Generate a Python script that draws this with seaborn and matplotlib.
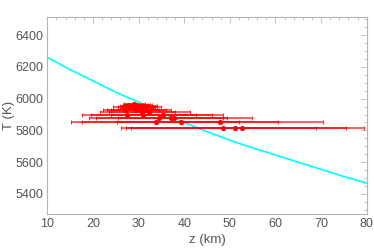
import matplotlib
matplotlib.use("Agg")
import matplotlib.pyplot as plt
import seaborn as sns
import numpy as np
import pandas as pd
from matplotlib.ticker import MultipleLocator

# model curve
curve_z = [10, 15, 20, 25, 30, 35, 40, 45, 48, 50, 55, 60, 65, 70, 75, 80]
curve_T = [6260, 6182, 6112, 6040, 5978, 5912, 5850, 5792, 5760, 5738, 5690, 5645, 5600, 5555, 5510, 5468]

# measurements
z_pts = [48.6, 51.1, 52.6, 33.8, 39.2, 47.8, 34.4, 37.0, 37.7, 27.5, 31.0, 35.3,
         30.8, 32.3, 29.5, 31.5, 27.0, 26.5, 28.5, 31.2, 28.0, 28.8, 29.5, 30.2,
         30.8, 29.0, 27.7, 31.5, 30.0, 29.2]
T_pts = [5818, 5818, 5818, 5852, 5852, 5852, 5880, 5880, 5880, 5899, 5899, 5899,
         5915, 5915, 5930, 5930, 5930, 5945, 5945, 5945, 5958, 5962, 5960, 5955,
         5950, 5965, 5952, 5948, 5940, 5935]
z_lo = [26.1, 27.2, 28.3, 15.3, 17.7, 25.2, 19.2, 20.7, 25.6, 17.7, 19.5, 24.0,
        21.5, 23.5, 22.1, 24.0, 23.0, 24.5, 25.5, 26.0, 26.5, 27.0, 27.5, 27.0,
        27.8, 26.8, 26.0, 28.0, 28.0, 26.5]
z_hi = [68.9, 75.4, 79.3, 52.0, 60.6, 70.4, 48.5, 54.8, 49.3, 42.6, 48.5, 46.0,
        41.3, 38.0, 37.1, 36.0, 34.5, 33.2, 33.0, 34.0, 32.5, 32.0, 33.0, 34.0,
        33.5, 31.5, 31.0, 35.0, 32.8, 33.5]

sns.set_theme(style="white")
plt.rcParams['font.family'] = ['Liberation Sans', 'DejaVu Sans']

fig, ax = plt.subplots(figsize=(3.74, 2.5), dpi=100)
fig.subplots_adjust(left=0.1265, right=0.9805, top=0.933, bottom=0.144)

df_c = pd.DataFrame({"z": curve_z, "T": curve_T})
sns.lineplot(data=df_c, x="z", y="T", color="#00ffff", lw=1.2, ax=ax, zorder=2)

zp = np.array(z_pts)
err = np.vstack([zp - np.array(z_lo), np.array(z_hi) - zp])
ax.errorbar(z_pts, T_pts, xerr=err, fmt='none', ecolor=(1, 0, 0, 0.8),
            elinewidth=1.1, capsize=1.5, capthick=0.8, zorder=3)
df_p = pd.DataFrame({"z": z_pts, "T": T_pts})
sns.scatterplot(data=df_p, x="z", y="T", color="#ff0000", s=14, linewidth=0,
                ax=ax, zorder=4)

ax.set_xlim(10, 80)
ax.set_ylim(5274, 6515)
ax.xaxis.set_major_locator(MultipleLocator(10))
ax.xaxis.set_minor_locator(MultipleLocator(2))
ax.yaxis.set_major_locator(MultipleLocator(200))
ax.yaxis.set_minor_locator(MultipleLocator(50))

gray = "#b5b5b5"
for s in ax.spines.values():
    s.set_color(gray)
    s.set_linewidth(0.8)
ax.tick_params(which='both', direction='in', color=gray, top=True, right=True,
               labelcolor="#555555", labelsize=9, width=0.6)
ax.tick_params(which='major', length=4, pad=3)
ax.tick_params(which='minor', length=2)

ax.set_xlabel("z (km)", color="#555555", fontsize=9.5, labelpad=3)
ax.set_ylabel("T (K)", color="#555555", fontsize=9.5, va='center')
ax.yaxis.set_label_coords(-0.12, 0.5)

fig.savefig("out.png", dpi=100)
